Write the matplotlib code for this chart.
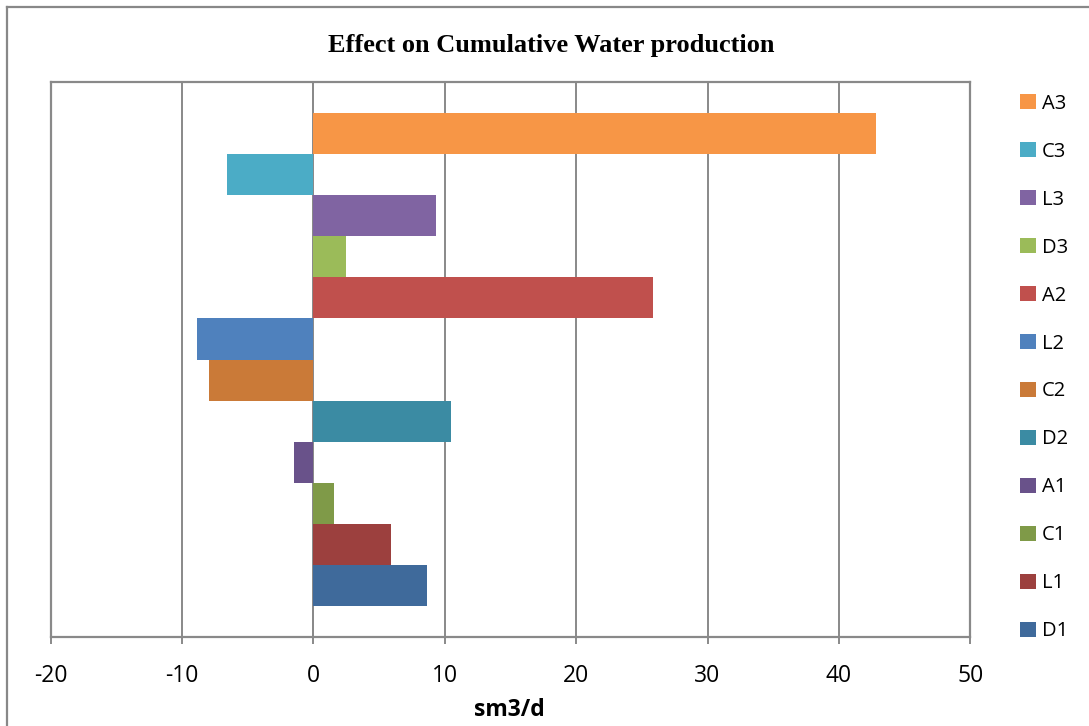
import matplotlib
matplotlib.use("Agg")
import matplotlib.pyplot as plt
from matplotlib.lines import Line2D

# bar order from bottom (D1) to top (A3)
labels = ["D1", "L1", "C1", "A1", "D2", "C2", "L2", "A2", "D3", "L3", "C3", "A3"]
values = [8.65, 5.9, 1.55, -1.47, 10.48, -7.94, -8.85, 25.85, 2.49, 9.34, -6.57, 42.8]
colors = ["#3F6A9B", "#9C403E", "#7F9A48", "#69528A", "#3B8BA3", "#CA7A38",
          "#4F81BD", "#C0504D", "#9BBB59", "#8064A2", "#4BACC6", "#F79646"]
xticks = [-20, -10, 0, 10, 20, 30, 40, 50]

grid_col = "#898989"

fig = plt.figure(figsize=(10.89, 7.26), dpi=100)
ax = fig.add_axes([50.5 / 1089, 1 - 637 / 726, (970.3 - 50.5) / 1089, 555 / 726])

for i, (lab, v, c) in enumerate(zip(labels, values, colors)):
    ax.barh(i, v, height=1.0, color=c, label=lab, zorder=3)

ax.set_xlim(-20, 50)
ax.set_ylim(-1.25, len(labels) - 1 + 1.25)
ax.set_xticks(xticks)
ax.set_xticklabels([str(t) for t in xticks], fontsize=16.5, family="Open Sans")
ax.set_yticks([])
ax.tick_params(axis="x", length=5, width=1.4, color=grid_col, pad=14.2)

ax.grid(axis="x", color=grid_col, linewidth=1.4, zorder=0)
ax.axvline(0, color="#BDBDBD", linewidth=1.3, zorder=1)
for s in ax.spines.values():
    s.set_color(grid_col)
    s.set_linewidth(1.6)

ax.set_xlabel("sm3/d", fontsize=16.5, fontweight="bold", family="Open Sans")
ax.xaxis.label.set_va("center")
ax.xaxis.set_label_coords(0.499, (637 - 710) / 555)

fig.text(551 / 1089, 1 - 52 / 726, "Effect on Cumulative Water production",
         ha="center", va="baseline", fontsize=19, fontweight="bold",
         family="Liberation Serif")

handles, names = ax.get_legend_handles_labels()
leg = ax.legend(handles[::-1], names[::-1], loc="center left",
                bbox_to_anchor=(1020 / 1089, 1 - 367.5 / 726),
                bbox_transform=fig.transFigure, frameon=False,
                borderpad=0, borderaxespad=0, handlelength=0.78,
                handleheight=0.78, handletextpad=0.32, labelspacing=1.39,
                prop={"family": "Open Sans", "size": 14.5})

# chart border (left and top edges)
fig.add_artist(Line2D([7 / 1089, 7 / 1089], [0, 1 - 7 / 726], color="#888888",
                      linewidth=1.6, transform=fig.transFigure))
fig.add_artist(Line2D([7 / 1089, 1], [1 - 7 / 726, 1 - 7 / 726], color="#888888",
                      linewidth=1.6, transform=fig.transFigure))

fig.savefig("out.png", dpi=100)
